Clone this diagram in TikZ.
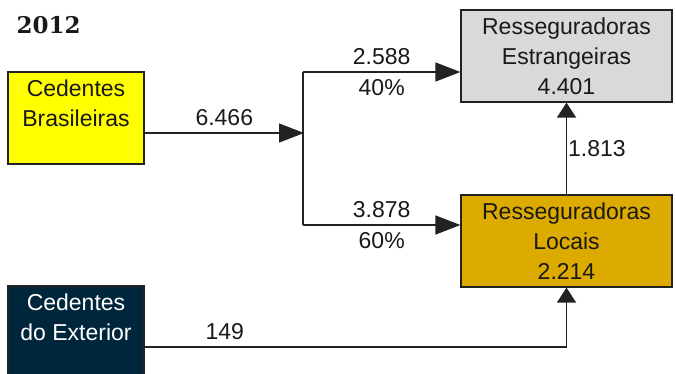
\documentclass[tikz,border=0pt]{standalone}
\usepackage{fontspec}
\setmainfont{Liberation Sans}
\newfontfamily\yearfont{DejaVu Serif}
\usepackage{xcolor}
\usetikzlibrary{arrows.meta, positioning}

\definecolor{cedbr}{HTML}{FFFF00}
\definecolor{cedex}{HTML}{00263C}
\definecolor{resest}{HTML}{D9D9D9}
\definecolor{resloc}{HTML}{DDAA00}
\definecolor{inkline}{HTML}{222222}

\begin{document}
\begin{tikzpicture}[
    x=1pt, y=-1pt,
    every node/.style={font=\fontsize{23}{30}\selectfont, text=black!90},
    box/.style={rectangle, draw=inkline, line width=1.2pt, minimum height=92pt, inner sep=0pt, align=center},
    smallbox/.style={box, minimum width=136pt},
    widebox/.style={box, minimum width=211pt},
    flowlabel/.style={inner sep=7pt},
    flow/.style={draw=inkline, line width=1.3pt},
    arrow/.style={flow, -{Triangle[length=25pt, width=19pt]}},
    uparrow/.style={flow, -{Triangle[length=15pt, width=19pt]}}
]
\useasboundingbox (0,0) rectangle (676,373);

\node (year) [anchor=west, font=\yearfont\bfseries\fontsize{23}{28}\selectfont] at (13,25) {2012};
\node (cb) [smallbox, fill=cedbr] at (76,118) {Cedentes\\Brasileiras\\\mbox{}};
\node (ce) [smallbox, fill=cedex, text=white] at (76,332) {Cedentes\\do Exterior\\\mbox{}};
\node (re) [widebox, fill=resest] at (566.5,56) {Resseguradoras\\Estrangeiras\\4.401};
\node (rl) [widebox, fill=resloc] at (566.5,241) {Resseguradoras\\Locais\\2.214};

\coordinate (split) at (304,133);
\coordinate (upper) at (303,72);
\coordinate (lower) at (303,225);

\draw [arrow] ([yshift=-15pt]cb.east) -- node[flowlabel, above] {6.466} (split);
\draw [flow] (upper) -- (lower);
\draw [arrow] (upper) -- node[flowlabel, above] {2.588} node[flowlabel, below] {40\%} ([yshift=-16pt]re.west);
\draw [arrow] (lower) -- node[flowlabel, above] {3.878} node[flowlabel, below] {60\%} ([yshift=16pt]rl.west);
\draw [uparrow] (rl.north) -- node[right, inner sep=1pt] {1.813} (re.south);
\draw [uparrow] ([yshift=-15pt]ce.east) -| node[flowlabel, above, pos=0.095] {149} (rl.south);

\end{tikzpicture}
\end{document}
